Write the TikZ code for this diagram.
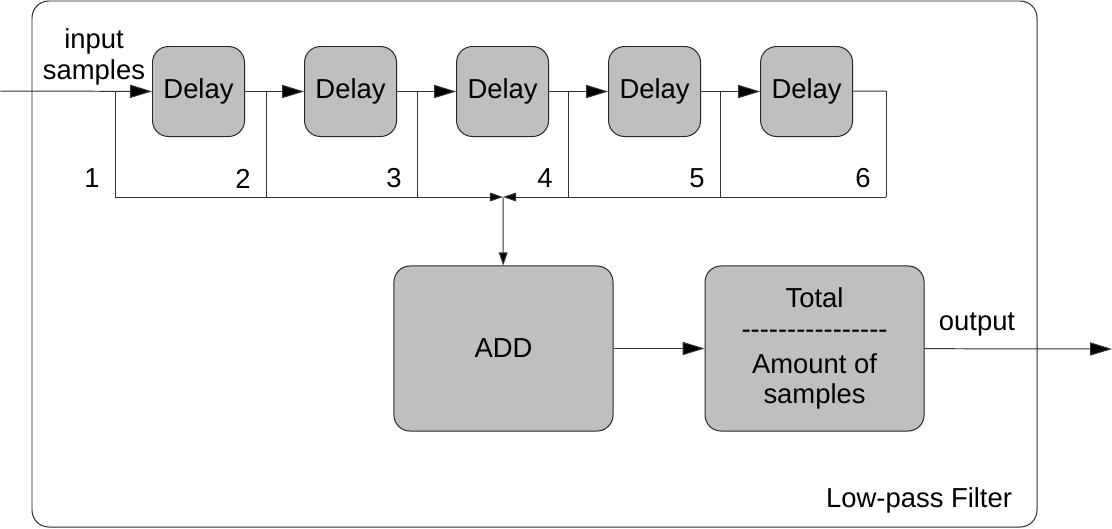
\documentclass[tikz,border=0pt]{standalone}
\usepackage{fontspec}
\setmainfont{Liberation Sans}
\usetikzlibrary{arrows.meta, positioning, calc}

\newcommand\dashrule{\foreach \i in {1,...,16}{\mbox{-}}}

\begin{document}
\begin{tikzpicture}[
        x=0.025cm, y=-0.025cm,
        font=\fontsize{19.5}{21}\selectfont,
        block/.style={rectangle, rounded corners=0.4cm, draw=black!85, fill=black!25, line width=0.7pt, align=center},
        delay/.style={block, minimum width=2.3cm, minimum height=2.25cm},
        big/.style={block, minimum width=5.475cm, minimum height=4.125cm},
        wire/.style={draw=black!80, line width=0.7pt},
        flow/.style={wire, -{Triangle[length=0.55cm, width=0.33cm, fill=black]}},
        bus/.style={wire, -{Triangle[length=0.33cm, width=0.22cm, fill=black]}},
        tapnum/.style={anchor=east, inner sep=0pt}
    ]
        \useasboundingbox (0,0) rectangle (1112,528);

        % Filter frame
        \draw[wire, draw=black!85, rounded corners=0.42cm] (32,1) rectangle (1037,527);
        \node[anchor=base east] (title) at (1017,507) {Low-pass Filter};

        % Delay line
        \node[delay, anchor=north west] (delay1) at (152,46) {Delay};
        \node[delay, right=1.475cm of delay1] (delay2) {Delay};
        \node[delay, right=1.475cm of delay2] (delay3) {Delay};
        \node[delay, right=1.475cm of delay3] (delay4) {Delay};
        \node[delay, right=1.475cm of delay4] (delay5) {Delay};

        \coordinate (in) at (0,91);
        \node[anchor=south, inner sep=0pt, align=center] (inlabel) at (94,85) {input\\[1pt]samples};
        \draw[flow] (in) -- (delay1);
        \foreach \a/\b in {1/2, 2/3, 3/4, 4/5} {
            \draw[flow] (delay\a) -- (delay\b);
        }

        % Taps
        \foreach \i/\x in {1/115, 2/266, 3/417, 4/568, 5/720, 6/886} {
            \coordinate (tap\i) at (\x,91);
            \coordinate (bus\i) at (\x,197);
            \draw[wire] (tap\i) -- (bus\i);
            \node[tapnum] (num\i) at (\x-15,178.5) {\i};
        }
        \draw[wire] (delay5) -- (tap6);

        % Sum bus
        \coordinate (join) at (503,197);
        \draw[bus] (bus1) -- (join);
        \draw[bus] (bus6) -- (join);

        % Adder and divider
        \node[big] (add) at (503.5,348.5) {ADD};
        \node[big, right=2.275cm of add] (divide) {Total\\[1pt]\dashrule\\[4pt]Amount of\\samples};
        \draw[bus] (join) -- (add);
        \draw[flow] (add) -- (divide);

        % Output
        \coordinate (out) at (1112,349);
        \node[anchor=base] (outlabel) at (977,330) {output};
        \draw[flow] (divide) -- (out);
\end{tikzpicture}
\end{document}
